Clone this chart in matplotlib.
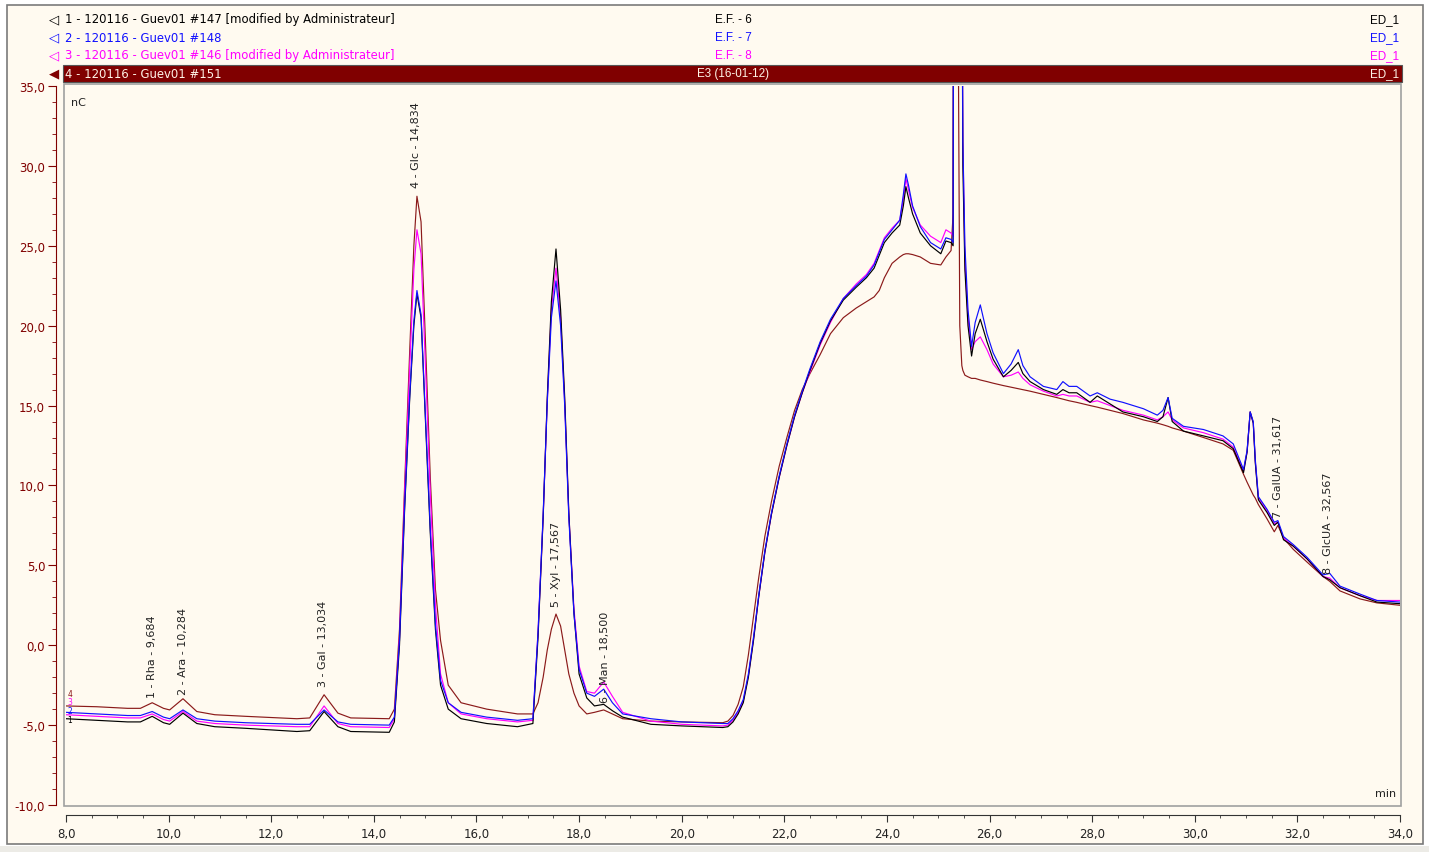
import matplotlib
matplotlib.use("Agg")
import matplotlib.pyplot as plt
from matplotlib.patches import Rectangle
from matplotlib.ticker import MultipleLocator, FuncFormatter

W, H = 1429, 853

# retention time grid (min), shared by the four traces
times = [8.00, 8.60, 9.20, 9.45, 9.68, 9.90, 10.02, 10.28, 10.55, 10.90, 11.50, 12.50, 12.75, 13.03, 13.30, 13.55, 14.30,
         14.40, 14.50, 14.60, 14.70, 14.78, 14.84, 14.92, 15.00, 15.10, 15.20, 15.30, 15.45, 15.70, 16.20, 16.80,
         17.10, 17.20, 17.30, 17.38, 17.46, 17.55, 17.64, 17.72, 17.80, 17.90, 18.00, 18.15, 18.30, 18.48, 18.65, 18.85, 19.40, 20.00, 20.80,
         20.90, 21.00, 21.10, 21.20, 21.30, 21.40, 21.50, 21.62, 21.75, 21.90, 22.05, 22.20, 22.35, 22.50, 22.70, 22.90, 23.15,
         23.40, 23.60, 23.75, 23.85, 23.95, 24.10, 24.25, 24.32, 24.37, 24.42, 24.50, 24.65, 24.85, 25.05, 25.15, 25.25, 25.29,
         25.30, 25.38, 25.42, 25.46, 25.48, 25.52, 25.58, 25.65, 25.72, 25.82, 25.95, 26.07, 26.27, 26.42, 26.56, 26.65, 26.79,
         27.05, 27.31, 27.43, 27.55, 27.70, 27.96, 28.10, 28.35, 28.60, 29.00, 29.27, 29.38, 29.48, 29.56, 29.78, 30.17, 30.55, 30.75,
         30.95, 31.02, 31.08, 31.14, 31.18, 31.24, 31.41, 31.55, 31.62, 31.73, 31.92, 32.19, 32.50, 32.63, 32.83, 33.22, 33.55, 34.00]

# signal (nC)
ef6 = [-4.60, -4.70, -4.80, -4.80, -4.45, -4.85, -4.95, -4.25, -4.90, -5.10, -5.20, -5.40, -5.35, -4.15, -5.10, -5.40, -5.45,
       -4.8, 0.0, 8.5, 15.5, 20.0, 22.0, 20.5, 14.5, 7.0, 1.0, -2.5, -4.0, -4.6, -4.9, -5.1,
       -4.9, 0.5, 8.0, 15.5, 21.5, 24.8, 21.0, 15.5, 8.3, 2.0, -1.8, -3.3, -3.8, -3.7, -4.1, -4.5, -4.95, -5.05, -5.15,
       -5.1, -4.8, -4.3, -3.6, -2.0, 0.3, 3.0, 5.8, 8.2, 10.5, 12.5, 14.3, 15.8, 17.2, 18.9, 20.3, 21.6,
       22.4, 23.0, 23.6, 24.4, 25.2, 25.8, 26.3, 27.5, 28.7, 28.0, 27.0, 25.8, 25.0, 24.5, 25.3, 25.2, 25.0,
       45, 45, 45, 45, 30.0, 23.5, 20.0, 18.1, 19.5, 20.4, 19.0, 17.9, 16.8, 17.2, 17.7, 17.0, 16.5,
       16.0, 15.7, 16.0, 15.8, 15.8, 15.2, 15.6, 15.1, 14.6, 14.3, 14.0, 14.3, 15.5, 14.0, 13.4, 13.1, 12.8, 12.3,
       10.8, 12.1, 14.6, 13.9, 11.4, 9.1, 8.3, 7.5, 7.7, 6.6, 6.2, 5.4, 4.3, 4.1, 3.6, 3.1, 2.7, 2.6]

ef7 = [-4.20, -4.30, -4.40, -4.40, -4.15, -4.50, -4.60, -4.05, -4.60, -4.75, -4.85, -4.95, -4.95, -4.05, -4.80, -4.95, -5.00,
       -4.5, 0.3, 8.7, 15.7, 20.3, 22.2, 20.7, 14.8, 7.3, 1.3, -2.2, -3.6, -4.2, -4.5, -4.7,
       -4.6, 0.8, 8.2, 15.2, 20.5, 22.8, 20.0, 15.0, 8.0, 2.0, -1.5, -3.0, -3.2, -2.75, -3.6, -4.3, -4.6, -4.8, -4.9,
       -4.9, -4.6, -4.1, -3.4, -1.8, 0.5, 3.1, 5.9, 8.3, 10.6, 12.6, 14.4, 15.9, 17.3, 19.0, 20.4, 21.7,
       22.5, 23.1, 23.8, 24.6, 25.4, 26.0, 26.6, 28.2, 29.5, 28.8, 27.5, 26.2, 25.2, 24.8, 25.5, 25.4, 25.2,
       45, 45, 45, 45, 31.5, 25.0, 21.0, 18.7, 20.2, 21.3, 19.5, 18.3, 17.0, 17.6, 18.5, 17.5, 16.8,
       16.2, 16.0, 16.5, 16.2, 16.2, 15.6, 15.8, 15.4, 15.2, 14.8, 14.4, 14.7, 15.5, 14.2, 13.7, 13.5, 13.1, 12.6,
       11.0, 12.2, 14.6, 14.0, 11.6, 9.3, 8.5, 7.7, 7.8, 6.8, 6.3, 5.5, 4.4, 4.5, 3.7, 3.2, 2.8, 2.7]

ef8 = [-4.35, -4.45, -4.55, -4.55, -4.30, -4.65, -4.75, -4.15, -4.75, -4.90, -5.00, -5.10, -5.10, -3.80, -4.90, -5.10, -5.15,
       -4.6, 0.5, 9.5, 17.5, 23.5, 26.0, 24.5, 18.0, 9.5, 2.5, -1.8, -3.6, -4.3, -4.6, -4.8,
       -4.7, 0.8, 8.0, 15.3, 21.0, 23.6, 20.5, 15.2, 8.2, 2.3, -1.3, -2.9, -3.0, -2.3, -3.2, -4.2, -4.75, -4.95, -5.05,
       -5.0, -4.7, -4.2, -3.5, -1.9, 0.4, 3.0, 5.8, 8.2, 10.5, 12.5, 14.3, 15.8, 17.1, 18.8, 20.2, 21.7,
       22.6, 23.2, 23.9, 24.7, 25.5, 26.1, 26.6, 27.9, 29.2, 28.5, 27.4, 26.3, 25.6, 25.2, 26.0, 25.8, 25.6,
       45, 45, 45, 45, 31.5, 24.0, 20.5, 18.5, 19.0, 19.3, 18.5, 17.6, 16.8, 16.9, 17.1, 16.7, 16.3,
       15.9, 15.6, 15.7, 15.6, 15.6, 15.2, 15.3, 15.0, 14.7, 14.4, 14.1, 14.3, 14.6, 14.1, 13.6, 13.3, 12.9, 12.4,
       10.9, 12.1, 14.6, 13.9, 11.5, 9.2, 8.4, 7.6, 7.7, 6.7, 6.2, 5.4, 4.3, 4.2, 3.6, 3.1, 2.8, 2.8]

e3 = [-3.80, -3.85, -3.95, -3.95, -3.60, -3.95, -4.05, -3.35, -4.15, -4.35, -4.45, -4.60, -4.55, -3.10, -4.25, -4.55, -4.60,
      -4.0, 1.0, 10.0, 18.5, 25.0, 28.1, 26.5, 19.5, 10.5, 3.5, 0.3, -2.5, -3.6, -4.0, -4.3,
      -4.3, -3.6, -2.0, -0.3, 1.0, 1.95, 1.2, -0.3, -1.8, -3.0, -3.8, -4.3, -4.2, -4.05, -4.3, -4.6, -4.75, -4.8, -4.85,
      -4.75, -4.4, -3.7, -2.6, -0.6, 1.8, 4.2, 6.8, 9.0, 11.2, 13.0, 14.7, 16.0, 17.0, 18.2, 19.5, 20.5,
      21.1, 21.5, 21.8, 22.2, 23.0, 23.9, 24.3, 24.45, 24.5, 24.5, 24.45, 24.3, 23.9, 23.8, 24.3, 24.7, 27.0,
      45, 45, 20.0, 17.5, 17.2, 16.9, 16.8, 16.7, 16.7, 16.6, 16.5, 16.4, 16.25, 16.15, 16.05, 16.0, 15.9,
      15.7, 15.5, 15.4, 15.3, 15.2, 15.0, 14.9, 14.7, 14.5, 14.1, 13.9, 13.8, 13.7, 13.6, 13.4, 13.0, 12.6, 12.2,
      10.7, 10.2, 9.8, 9.4, 9.2, 8.8, 7.9, 7.1, 7.5, 6.7, 6.0, 5.2, 4.3, 4.0, 3.4, 2.9, 2.65, 2.5]

# peak annotations: label, time, bottom of text (nC)
peak_labels = ["1 - Rha - 9,684", "2 - Ara - 10,284", "3 - Gal - 13,034", "4 - Glc - 14,834",
               "5 - Xyl - 17,567", "6 - Man - 18,500", "7 - GalUA - 31,617", "8 - GlcUA - 32,567"]
peak_times = [9.68, 10.28, 13.01, 14.82, 17.55, 18.50, 31.62, 32.60]
peak_text_y = [-3.25, -3.07, -2.57, 28.66, 2.44, -3.57, 8.0, 4.5]

trace_names = ["1 - 120116 - Guev01 #147 [modified by Administrateur]", "2 - 120116 - Guev01 #148",
               "3 - 120116 - Guev01 #146 [modified by Administrateur]", "4 - 120116 - Guev01 #151"]
trace_samples = ["E.F. - 6", "E.F. - 7", "E.F. - 8", "E3 (16-01-12)"]
trace_colors = ["#000000", "#1010ff", "#ff00ff", "#8b1a1a"]

BG = "#fffaf0"
DARKRED = "#800000"

fig = plt.figure(figsize=(W / 100, H / 100), dpi=100, facecolor="white")


def fx(px):
    return px / W


def fy(py):
    return 1 - py / H


# window frame
fig.patches.append(Rectangle((fx(7), fy(845)), fx(1416), 839 / H, transform=fig.transFigure,
                             facecolor=BG, edgecolor="#7a7a7a", lw=1.2, zorder=-3))
fig.patches.append(Rectangle((0, 0), 1, fy(847), transform=fig.transFigure,
                             facecolor="#ecebe6", edgecolor="none", zorder=-3))

ax = fig.add_axes([fx(66), fy(806), fx(1334), 719 / H])
ax.set_facecolor("none")

order = [3, 2, 0, 1]
series = [ef6, ef7, ef8, e3]
for i in order:
    ax.plot(times, series[i], color=trace_colors[i], lw=0.85)

ax.set_xlim(8, 34)
ax.set_ylim(-10, 35)

for s in ["top", "right"]:
    ax.spines[s].set_visible(False)
ax.spines["left"].set_position(("outward", 7))
ax.spines["left"].set_color(DARKRED)
ax.spines["bottom"].set_position(("outward", 7))
ax.spines["bottom"].set_color("#333333")

comma = FuncFormatter(lambda v, p: f"{v:.1f}".replace(".", ","))
ax.xaxis.set_major_locator(MultipleLocator(2))
ax.xaxis.set_minor_locator(MultipleLocator(0.5))
ax.yaxis.set_major_locator(MultipleLocator(5))
ax.yaxis.set_minor_locator(MultipleLocator(1))
ax.xaxis.set_major_formatter(comma)
ax.yaxis.set_major_formatter(comma)
ax.tick_params(axis="x", which="major", length=5, color="#333333", labelsize=8.5, labelcolor="#222222", pad=4)
ax.tick_params(axis="x", which="minor", length=2, color="#333333")
ax.tick_params(axis="y", which="major", length=6, color=DARKRED, labelsize=8.5, labelcolor=DARKRED, pad=2)
ax.tick_params(axis="y", which="minor", length=3, color=DARKRED)

# inner plot box
ax.add_patch(Rectangle((-0.0015, -0.0015), 1.0025, 1.004, transform=ax.transAxes, fill=False,
                       edgecolor="#a0a0a0", lw=1.2, clip_on=False, zorder=5))

for lab, t, yb in zip(peak_labels, peak_times, peak_text_y):
    ax.text(t, yb, lab, rotation=90, ha="center", va="bottom", fontsize=8, color="#222222")

for k, yv in enumerate([-3.0, -3.55, -4.1, -4.65]):
    ax.text(8.03, yv, str(4 - k), fontsize=5.5, color=trace_colors[3 - k], ha="left", va="center")

ax.text(0.004, 0.978, "nC", transform=ax.transAxes, fontsize=8, color="#222222", ha="left", va="center")
ax.text(0.997, 0.017, "min", transform=ax.transAxes, fontsize=8, color="#222222", ha="right", va="center")

# header with trace list
fig.patches.append(Rectangle((fx(63), fy(83)), fx(1339), 17 / H, transform=fig.transFigure,
                             facecolor=DARKRED, edgecolor="#555555", lw=0.8, zorder=-1))
rows_y = [20, 38, 56, 74]
for i in range(4):
    c = trace_colors[i] if i < 3 else "#fff3e6"
    tri = "◁" if i < 3 else "◀"
    fig.text(fx(49), fy(rows_y[i]), tri, fontsize=9.5, color=trace_colors[i] if i < 3 else DARKRED,
             ha="left", va="center", family="DejaVu Sans")
    fig.text(fx(65), fy(rows_y[i]), trace_names[i], fontsize=8.4, color=c, ha="left", va="center")
    fig.text(fx(733), fy(rows_y[i]), trace_samples[i], fontsize=8.4, color=c, ha="center", va="center",
             family="Liberation Sans")
    fig.text(fx(1399), fy(rows_y[i]), "ED_1", fontsize=8.4, color=c, ha="right", va="center",
             family="Liberation Sans")

fig.savefig("out.png", dpi=100, facecolor=fig.get_facecolor())
